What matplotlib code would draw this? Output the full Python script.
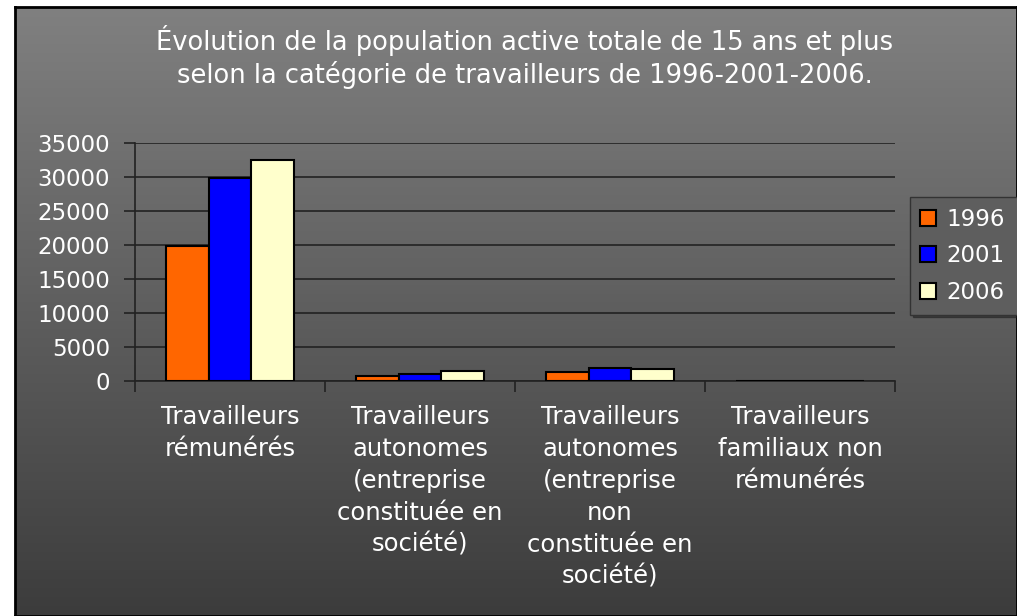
import matplotlib
matplotlib.use("Agg")
import matplotlib.pyplot as plt
import numpy as np

# data
categories = ["Travailleurs\nrémunérés",
              "Travailleurs\nautonomes\n(entreprise\nconstituée en\nsociété)",
              "Travailleurs\nautonomes\n(entreprise\nnon\nconstituée en\nsociété)",
              "Travailleurs\nfamiliaux non\nrémunérés"]
years = ["1996", "2001", "2006"]
v1996 = [19900, 730, 1270, 0]
v2001 = [29900, 1030, 1960, 0]
v2006 = [32500, 1470, 1710, 0]
colors = ["#ff6600", "#0000ff", "#ffffcc"]

title = ("Évolution de la population active totale de 15 ans et plus\n"
         "selon la catégorie de travailleurs de 1996-2001-2006.")

fs = 16.5
fig = plt.figure(figsize=(10.17, 6.16), dpi=100)
fig.patch.set_facecolor("white")

# gradient background with black frame
bg = fig.add_axes([15/1017, 0, 1 - 15/1017, 1 - 7/616])
grad = np.linspace(128, 60, 256).reshape(-1, 1) / 255.0
bg.imshow(np.dstack([grad, grad, grad]), aspect="auto", extent=[0, 1, 0, 1])
bg.set_xticks([])
bg.set_yticks([])
for s in bg.spines.values():
    s.set_color("black")
    s.set_linewidth(2)
bg.set_zorder(0)

ax = fig.add_axes([135/1017, 1 - 381/616, 760/1017, 238/616])
ax.patch.set_alpha(0)
x = np.arange(len(categories))
w = 0.225
for i, (vals, c, lab) in enumerate(zip([v1996, v2001, v2006], colors, years)):
    ax.bar(x + (i - 1) * w, vals, w, color=c, edgecolor="black", linewidth=1.5,
           label=lab, zorder=3)

ax.set_xlim(-0.5, len(categories) - 0.5)
ax.set_ylim(0, 35000)
ax.set_yticks(range(0, 35001, 5000))
ax.yaxis.grid(True, color="#222222", linewidth=1.2, zorder=0)
ax.set_xticks(np.arange(-0.5, len(categories)), minor=False)
ax.set_xticklabels([])
ax.set_xticks(x, minor=True)
ax.set_xticklabels(categories, minor=True, color="white", fontsize=17.5,
                   linespacing=1.42, va="top")
ax.tick_params(axis="x", which="minor", length=0, pad=17)
ax.tick_params(axis="x", which="major", length=8, color="#222222", width=1.2)
ax.tick_params(axis="y", length=8, color="#222222", width=1.2,
               labelcolor="white", labelsize=fs, pad=10)
for s in ["top", "right"]:
    ax.spines[s].set_visible(False)
for s in ["left", "bottom"]:
    ax.spines[s].set_color("#222222")
    ax.spines[s].set_linewidth(1.2)

# legend box runs off the right edge like in the original
leg = fig.legend(loc="upper left",
                 bbox_to_anchor=(910/1017, 1 - 198/616, 0.14, 0.001),
                 mode="expand",
                 borderaxespad=0, fontsize=fs, frameon=True, fancybox=False,
                 shadow=True, handlelength=0.7, handleheight=0.7,
                 handletextpad=0.45, labelspacing=0.6, borderpad=0.45)
leg.get_frame().set_facecolor("#5e5e5e")
leg.get_frame().set_edgecolor("#333333")
for t in leg.get_texts():
    t.set_color("white")

fig.text(525/1017, 1 - 57/616, title, ha="center", va="center", color="white",
         fontsize=18.5, linespacing=1.2)

fig.savefig("out.png", dpi=100)
